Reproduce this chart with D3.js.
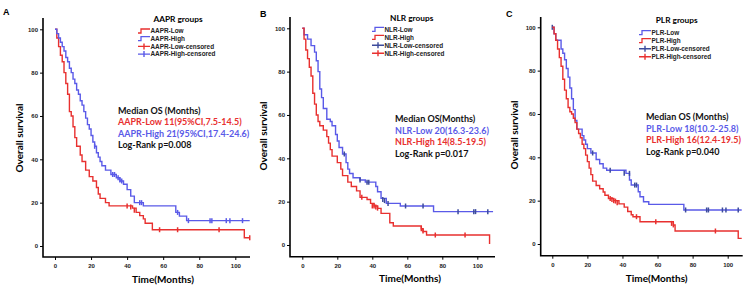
<!DOCTYPE html>
<html>
<head>
<meta charset="utf-8">
<script src="https://cdn.jsdelivr.net/npm/d3@7"></script>
<style>
  body { margin: 0; background: #fff; }
  svg { display: block; }
  .tick text { font-family: "Liberation Sans", Arial, sans-serif; font-weight: bold; font-size: 6px; fill: #222; }
  .tick line { stroke: #000; }
</style>
</head>
<body>
<div class="graph"></div>
<script>
// ---- data: [months, survival %] after each drop ----
var xTicks = [0, 20, 40, 60, 80, 100];
var yTicks = [0, 20, 40, 60, 80, 100];

// A: AAPR
var aaprLow = [[0,100],[1,96],[2,92],[3,88],[4,85],[5,80],[6,75],[7,70],[8,62],[9,60],[10,55],[11,50],[12,46],[14,42],[15,39],[17,35],[19,32],[21,30],[23,27],[24,24],[25,22],[28,20],[30,18.5],[43,17.5],[45,15.5],[47,14],[49,12.5],[50,10.5],[54,7.5],[105,3.8]];
var aaprLowCens = [[40,18.5],[42,18],[44,16.5],[58,7.5],[68,7.5],[91,7.5],[108,3.8]];
var aaprHigh = [[0,100],[1,98],[2,96],[3,94],[4,92],[5,90],[6,87],[7,85],[8,82],[9,80],[10,77],[11,75],[12,72],[13,70],[14,67],[15,65],[16,62],[17,59],[18,56],[19,54],[20,51],[21,48],[22,46],[23,43],[24,41],[25,39],[26,37],[28,35],[31,33],[34,31.5],[36,30],[38,28.5],[40,26],[42,23],[44,20],[49,18.5],[67,15.5],[69,13.8],[73,11.7]];
var aaprHighCens = [[22,46],[32,33],[33,33],[35,31.5],[36,30.5],[37,30],[47,20],[48,20],[68,15.5],[74,11.7],[86,11.7],[87,11.7],[95,11.7],[97,11.7],[104,11.7]];
var aaprEnd = [108, 108];

// B: NLR
var nlrLow = [[0,100],[1,97],[3,95],[5,92],[7,89],[8,85],[9,80],[10,72],[11,68],[12,63],[14,58],[16,57],[17,55],[19,51],[20,48],[21,45],[23,42],[25,38],[26,35],[27,33],[29,31],[33,30],[36,29],[42,27],[43,24.6],[45,21.5],[48,19.2],[56,18],[75,15.4]];
var nlrLowCens = [[24,42],[33,30],[37,29],[38,29],[46,21],[47,20.5],[49,19.2],[59,18],[69,18],[89,15.4],[98,15.4],[99,15.4],[106,15.4]];
var nlrHigh = [[0,100],[1,95],[2,90],[3,86],[4,82],[5,78],[6,70],[7,65],[8,60],[9,57],[10,55],[12,53],[14,50],[15,47],[16,44],[17,41],[20,38],[22,35],[23,32],[26,29],[28,27],[31,25],[33,22],[37,21],[39,19.2],[41,18],[43,16.9],[45,14.6],[50,10.3],[52,8.8],[68,7.5],[69,6.2],[71,4.6],[107,0.5]];
var nlrHighCens = [[34,22],[40,18],[41,18],[42,17.5],[43,17],[68,7.5],[69,6.5],[76,4.6],[93,4.6]];
var nlrEnd = [109, 107];

// C: PLR
var plrLow = [[0,100],[1,97],[2,94],[5,90],[6,88],[7,85],[8,81],[9,77],[10,72],[11,67],[12,62],[13,57],[14,53],[17,50],[18,48],[19,46],[20,44],[22,42],[25,39],[27,37],[29,35],[31,34],[42,32.6],[44,29.5],[45,27.2],[49,24.1],[50,21.8],[52,19.5],[55,18.3],[75,15.7]];
var plrLowCens = [[0,100],[23,42],[33,34],[41,32.6],[44,32.6],[47,27.2],[48,27.2],[76,15.7],[88,15.7],[89,15.7],[97,15.7],[99,15.7],[106,15.7]];
var plrHigh = [[0,100],[1,97],[2,94],[3,90],[4,86],[5,82],[6,76],[7,71],[8,67],[9,63],[10,61],[11,60],[12,58],[13,56],[14,53],[15,51],[16,49],[17,46],[18,44],[19,41],[20,38],[21,35],[22,32],[23,29],[25,27],[27,25.5],[29,24],[30,22.5],[32,21],[35,20],[38,18.5],[41,17],[43,15],[45,13.5],[46,12.6],[50,10.3],[69,8.8],[70,6],[106,2.6]];
var plrHighCens = [[33,21],[34,20.5],[35,20],[36,19.8],[37,19],[48,12.6],[59,10.3],[68,9.5],[69,8.8],[93,6]];
var plrEnd = [108, 108];

var RED = '#e8302f', BLUE = '#5a5ae8', NAVY = '#3c4b9c';

var panels = [
  {letter: 'A', lx: 3, ly: 15,
   box: {left: 43, top: 18, right: 250, bottom: 257, x0: 55, x100: 235.3, y0: 246, y100: 29.3},
   ylab: [19, 138], xlab: [163, 283],
   legTitle: 'AAPR groups', legT: [178, 22], legX: 138, legY: 31, legDy: 7.7,
   legend: [['AAPR-Low', RED, 'step'], ['AAPR-High', BLUE, 'step'], ['AAPR-Low-censored', RED, 'cens'], ['AAPR-High-censored', BLUE, 'cens']],
   curves: [{d: aaprLow, c: aaprLowCens, end: aaprEnd[0], col: RED, ccol: RED}, {d: aaprHigh, c: aaprHighCens, end: aaprEnd[1], col: BLUE, ccol: BLUE}],
   med: [118, 113.5], medLines: [['Median OS (Months)', '#111'], ['AAPR-Low 11(95%CI,7.5-14.5)', RED], ['AAPR-High 21(95%CI,17.4-24.6)', BLUE], ['Log-Rank p=0.008', '#111']]},
  {letter: 'B', lx: 260, ly: 17,
   box: {left: 290, top: 17, right: 495, bottom: 256.7, x0: 302.3, x100: 477.3, y0: 245, y100: 28.3},
   ylab: [263, 136], xlab: [410, 282],
   legTitle: 'NLR groups', legT: [411.7, 21], legX: 372, legY: 29.3, legDy: 8,
   legend: [['NLR-Low', BLUE, 'step'], ['NLR-High', RED, 'step'], ['NLR-Low-censored', NAVY, 'cens'], ['NLR-High-censored', RED, 'cens']],
   curves: [{d: nlrLow, c: nlrLowCens, end: nlrEnd[0], col: BLUE, ccol: NAVY}, {d: nlrHigh, c: nlrHighCens, end: nlrEnd[1], col: RED, ccol: RED}],
   med: [395, 122], medLines: [['Median OS(Months)', '#111'], ['NLR-Low 20(16.3-23.6)', BLUE], ['NLR-High 14(8.5-19.5)', RED], ['Log-Rank p=0.017', '#111']]},
  {letter: 'C', lx: 506, ly: 17,
   box: {left: 540.7, top: 17, right: 742.7, bottom: 255.7, x0: 552.3, x100: 727.7, y0: 244, y100: 27.3},
   ylab: [514, 135], xlab: [656.7, 282],
   legTitle: 'PLR groups', legT: [676.7, 23], legX: 639, legY: 32.7, legDy: 8,
   legend: [['PLR-Low', BLUE, 'step'], ['PLR-High', RED, 'step'], ['PLR-Low-censored', NAVY, 'cens'], ['PLR-High-censored', RED, 'cens']],
   curves: [{d: plrLow, c: plrLowCens, end: plrEnd[0], col: BLUE, ccol: NAVY}, {d: plrHigh, c: plrHighCens, end: plrEnd[1], col: RED, ccol: RED}],
   med: [646, 120], medLines: [['Median OS (Months)', '#111'], ['PLR-Low 18(10.2-25.8)', BLUE], ['PLR-High 16(12.4-19.5)', RED], ['Log-Rank p=0.040', '#111']]}
];

var w = 750, h = 292;
var svg = d3.select('div.graph').append('svg').attr('width', w).attr('height', h);
var labFont = 'Lato, "Open Sans", sans-serif';

panels.forEach(function(p){
  var b = p.box;
  var g = svg.append('g');
  var x = d3.scaleLinear().domain([0, 100]).range([b.x0, b.x100]);
  var y = d3.scaleLinear().domain([0, 100]).range([b.y0, b.y100]);

  // axes
  var xa = g.append('g').attr('transform', 'translate(0,' + b.bottom + ')')
    .call(d3.axisBottom(x).tickValues(xTicks).tickSize(3).tickPadding(4));
  xa.select('.domain').remove();
  var ya = g.append('g').attr('transform', 'translate(' + b.left + ',0)')
    .call(d3.axisLeft(y).tickValues(yTicks).tickSize(3).tickPadding(2));
  ya.select('.domain').remove();
  g.append('path').attr('fill', 'none').attr('stroke', '#000').attr('stroke-width', 1.6)
    .attr('d', 'M' + b.left + ',' + b.top + 'V' + b.bottom + 'H' + b.right);

  // curves
  var line = d3.line().x(function(d){return x(d[0])}).y(function(d){return y(d[1])}).curve(d3.curveStepAfter);
  p.curves.forEach(function(c){
    var pts = c.d.concat([[c.end, c.d[c.d.length - 1][1]]]);
    g.append('path').datum(pts).attr('fill', 'none').attr('stroke', c.col).attr('stroke-width', 1.4).attr('d', line);
    g.selectAll(null).data(c.c).enter().append('line')
      .attr('x1', function(d){return x(d[0])}).attr('x2', function(d){return x(d[0])})
      .attr('y1', function(d){return y(d[1]) - 2.5}).attr('y2', function(d){return y(d[1]) + 2.5})
      .attr('stroke', c.ccol).attr('stroke-width', 1.5);
  });

  // panel letter
  g.append('text').attr('x', p.lx).attr('y', p.ly).text(p.letter)
    .style('font-family', '"Liberation Sans", Arial, sans-serif').style('font-weight', 'bold').style('font-size', '9px');

  // axis titles
  g.append('text').attr('transform', 'translate(' + p.ylab[0] + ',' + p.ylab[1] + ') rotate(-90)')
    .attr('text-anchor', 'middle').attr('dy', '0.35em').text('Overall survival')
    .style('font-family', labFont).style('font-weight', 'bold').style('font-size', '10px');
  g.append('text').attr('x', p.xlab[0]).attr('y', p.xlab[1]).attr('text-anchor', 'middle').text('Time(Months)')
    .style('font-family', labFont).style('font-weight', 'bold').style('font-size', '10px');

  // legend
  g.append('text').attr('x', p.legT[0]).attr('y', p.legT[1]).attr('text-anchor', 'middle').text(p.legTitle)
    .style('font-family', labFont).style('font-weight', 'bold').style('font-size', '8.3px');
  p.legend.forEach(function(l, i){
    var ly = p.legY + i * p.legDy, lx = p.legX;
    if (l[2] === 'step') {
      g.append('path').attr('fill', 'none').attr('stroke', l[1]).attr('stroke-width', 1.3)
        .attr('d', 'M' + lx + ',' + (ly + 2) + 'H' + (lx + 3) + 'V' + (ly - 2) + 'H' + (lx + 12));
    } else {
      g.append('path').attr('fill', 'none').attr('stroke', l[1]).attr('stroke-width', 1.4)
        .attr('d', 'M' + lx + ',' + ly + 'H' + (lx + 12) + 'M' + (lx + 6) + ',' + (ly - 3) + 'V' + (ly + 3));
    }
    g.append('text').attr('x', lx + 12.5).attr('y', ly).attr('dy', '0.35em').text(l[0])
      .style('font-family', '"Liberation Sans", Arial, sans-serif').style('font-weight', 'bold')
      .style('font-size', '6.4px').attr('fill', '#222');
  });

  // median OS box
  p.medLines.forEach(function(m, i){
    g.append('text').attr('x', p.med[0]).attr('y', p.med[1] + i * 11.5).text(m[0]).attr('fill', m[1])
      .style('font-family', labFont).style('font-weight', 'bold').style('font-size', '9px');
  });
});
</script>
</body>
</html>
